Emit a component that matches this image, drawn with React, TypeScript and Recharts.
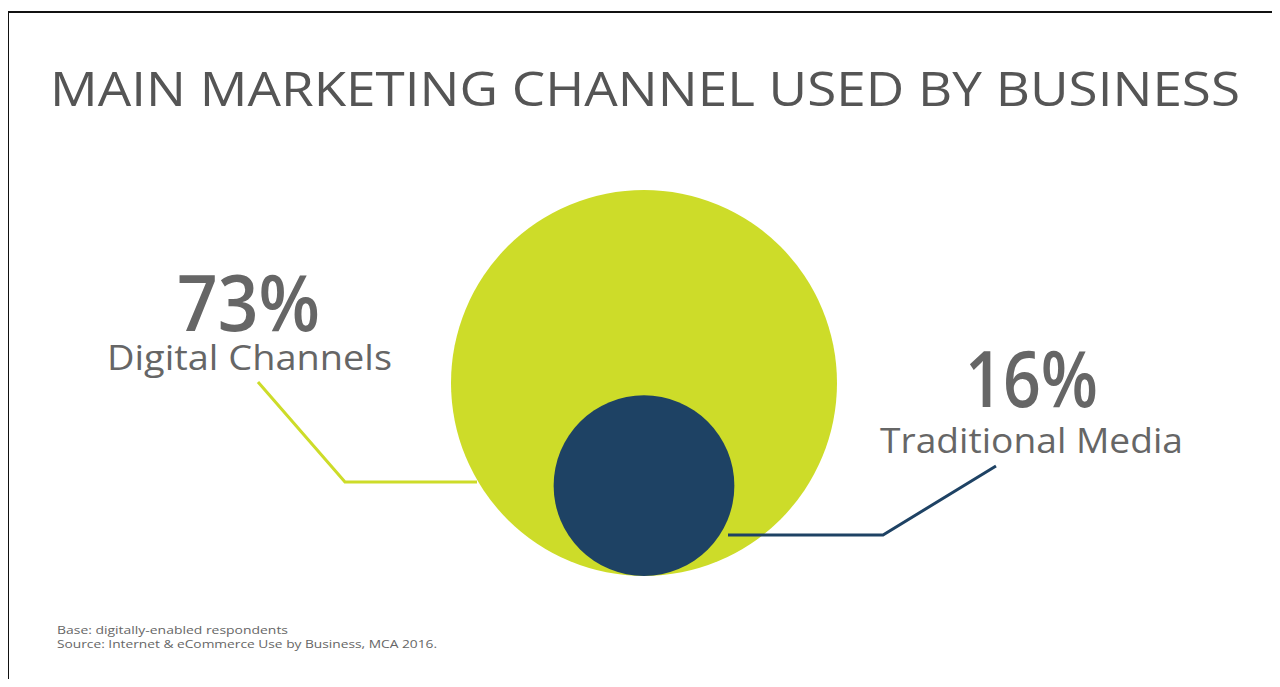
import { ScatterChart, Scatter, XAxis, YAxis, ZAxis, Cell } from 'recharts';

// Share of businesses by main marketing channel (%)
const channels = ['Digital Channels', 'Traditional Media'];
const shares = [73, 16];
const colors = ['#cddc29', '#1e4264'];

const title = 'MAIN MARKETING CHANNEL USED BY BUSINESS';
const baseNote = 'Base: digitally-enabled respondents';
const sourceNote = 'Source: Internet & eCommerce Use by Business, MCA 2016.';

const BIG_R = 193; // radius in px of the largest bubble
const maxShare = Math.max(...shares);
// bubbles sit on a common baseline, so centre height = radius (radius ~ sqrt(share))
const bubbleData = shares.map((v, i) => ({
  name: channels[i],
  x: 0,
  y: Math.sqrt(v),
  z: v,
}));
const yMax = 2 * Math.sqrt(maxShare);

const FONT = '"Open Sans", "Noto Sans", sans-serif';
const TEXT = '#666666';

export default function App() {
  return (
    <div style={{ position: 'relative', width: 1280, height: 687, margin: -8, background: '#fff', overflow: 'hidden' }}>
      {/* frame */}
      <div style={{ position: 'absolute', left: 7, top: 11, width: 1271, height: 700, borderTop: '2px solid #111', borderLeft: '2px solid #111', borderRight: '1px solid #555' }} />

      <div style={{ position: 'absolute', left: 644 - BIG_R, top: 576 - 2 * BIG_R }}>
        <ScatterChart width={2 * BIG_R} height={2 * BIG_R} margin={{ top: 0, right: 0, bottom: 0, left: 0 }}>
          <XAxis type="number" dataKey="x" hide domain={[-Math.sqrt(maxShare), Math.sqrt(maxShare)]} />
          <YAxis type="number" dataKey="y" hide domain={[0, yMax]} />
          <ZAxis type="number" dataKey="z" domain={[0, maxShare]} range={[0, Math.PI * BIG_R * BIG_R]} />
          <Scatter data={bubbleData} isAnimationActive={false}>
            {bubbleData.map((d, i) => (
              <Cell key={d.name} fill={colors[i]} />
            ))}
          </Scatter>
        </ScatterChart>
      </div>

      <svg width={1280} height={687} style={{ position: 'absolute', left: 0, top: 0, pointerEvents: 'none' }}>
        <text x={50} y={106} fontFamily={FONT} fontSize={47} fontWeight={500} fill="#555555" textLength={1190} lengthAdjust="spacingAndGlyphs">
          {title}
        </text>

        {/* leader lines */}
        <polyline points="258,382 345,482 477,482" fill="none" stroke={colors[0]} strokeWidth={3} />
        <polyline points="728,535 883,535 996,466" fill="none" stroke={colors[1]} strokeWidth={3} />

        <text x={177} y={331} fontFamily={FONT} fontSize={78} fontWeight={600} fill={TEXT} textLength={143} lengthAdjust="spacingAndGlyphs">
          {shares[0]}%
        </text>
        <text x={107} y={370} fontFamily={FONT} fontSize={34} fontWeight={500} fill={TEXT} textLength={285} lengthAdjust="spacingAndGlyphs">
          {channels[0]}
        </text>
        <text x={965} y={407} fontFamily={FONT} fontSize={77} fontWeight={600} fill={TEXT} textLength={133} lengthAdjust="spacingAndGlyphs">
          {shares[1]}%
        </text>
        <text x={880} y={453} fontFamily={FONT} fontSize={34} fontWeight={500} fill={TEXT} textLength={303} lengthAdjust="spacingAndGlyphs">
          {channels[1]}
        </text>

        <text x={57} y={634} fontFamily={FONT} fontSize={11.5} fontWeight={500} fill={TEXT} textLength={231} lengthAdjust="spacingAndGlyphs">
          {baseNote}
        </text>
        <text x={57} y={648} fontFamily={FONT} fontSize={11.5} fontWeight={500} fill={TEXT} textLength={380} lengthAdjust="spacingAndGlyphs">
          {sourceNote}
        </text>
      </svg>
    </div>
  );
}
